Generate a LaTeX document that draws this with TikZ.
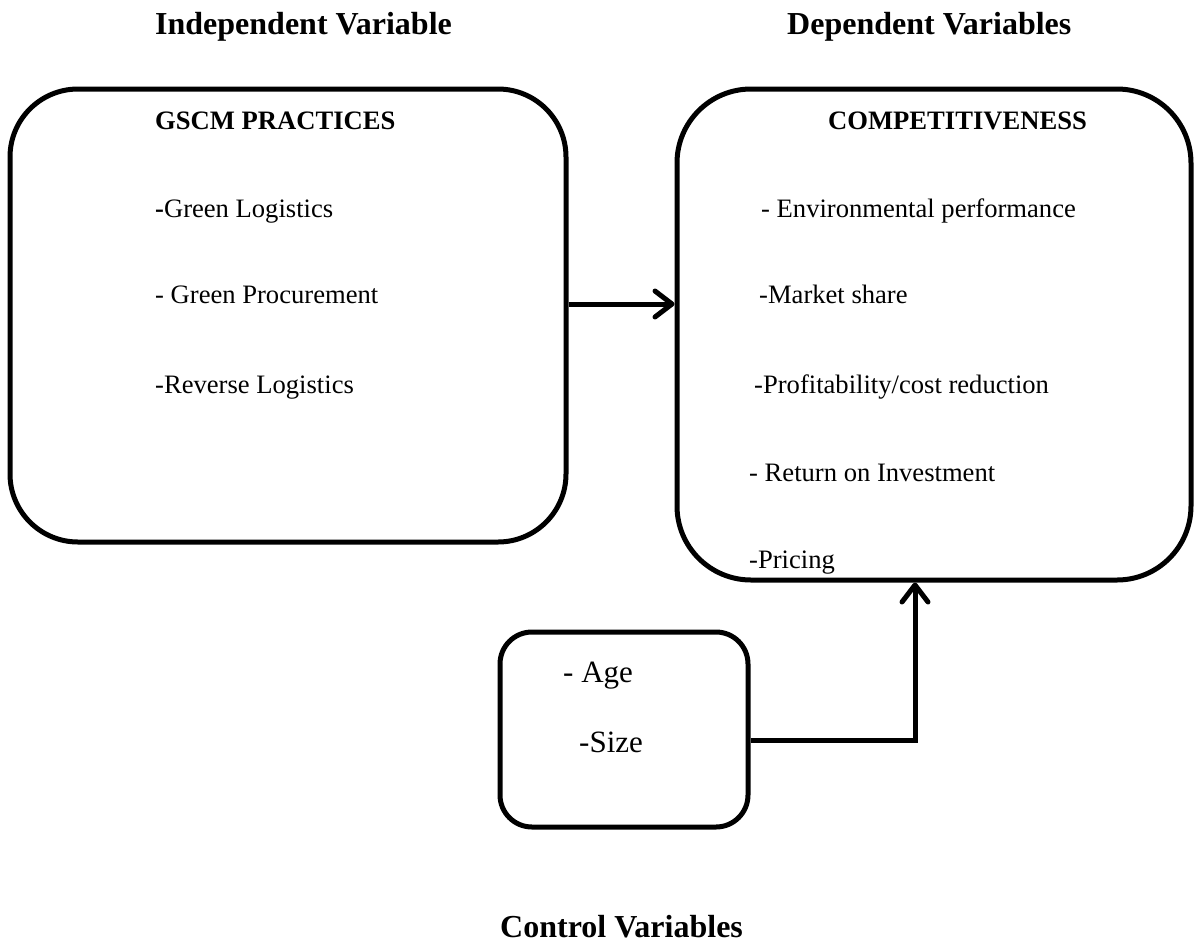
\documentclass[tikz,border=0pt]{standalone}
\usepackage{fontspec}
\setmainfont{Liberation Serif}
\usetikzlibrary{arrows.meta}
\tikzstyle{box} = [draw, line width=5pt, rectangle, inner sep=0pt]
\tikzstyle{entry} = [anchor=base west, inner sep=0pt, font=\fontsize{26.6}{30}\selectfont]
\tikzstyle{boxtitle} = [entry, font=\fontsize{26.6}{30}\selectfont\bfseries]
\tikzstyle{ctrlentry} = [entry, font=\fontsize{31}{36}\selectfont]
\tikzstyle{heading} = [anchor=base west, inner sep=0pt, font=\fontsize{32}{38}\selectfont\bfseries]
\tikzstyle{link} = [line width=5pt, -{Straight Barb[length=17pt,width=26pt,line cap=round,line join=round]}]

\begin{document}
\begin{tikzpicture}[x=1pt,y=-1pt]
\useasboundingbox (0,0) rectangle (1195,943);

\node[box, name=gscm, rounded corners=68pt, minimum width=556pt, minimum height=453pt] at (288,315.5) {};
\node[box, name=comp, rounded corners=74pt, minimum width=514pt, minimum height=491pt] at (934,334.5) {};
\node[box, name=ctrl, rounded corners=32pt, minimum width=248pt, minimum height=195pt] at (624,729.5) {};

% headings
\node[heading, name=indep] at (155,34) {Independent Variable};
\node[heading, name=dep] at (787,34) {Dependent Variables};
\node[heading, name=control] at (500,937) {Control Variables};

% gscm practices
\node[boxtitle, name=gscmtitle] at (155,129) {GSCM PRACTICES};
\node[entry, name=glog] at (155,217) {\textbf{-}Green Logistics};
\node[entry, name=gproc] at (155,303) {- Green Procurement};
\node[entry, name=rlog] at (155,393) {-Reverse Logistics};

% competitiveness
\node[boxtitle, name=comptitle] at (828,129) {COMPETITIVENESS};
\node[entry, name=envp] at (761,217) {- Environmental performance};
\node[entry, name=mshare] at (759,303) {-Market share};
\node[entry, name=profit] at (754,393) {-Profitability/cost reduction};
\node[entry, name=roi] at (749,481) {- Return on Investment};
\node[entry, name=pricing] at (749,568) {-Pricing};

% control
\node[ctrlentry, name=age] at (563,682) {- Age};
\node[ctrlentry, name=size] at (579,752) {-Size};

\coordinate (a) at (0,304);
\draw[link] (gscm.east |- a) -- (comp.west |- a);

\coordinate (c) at (915,740);
\draw[link] (ctrl.east |- c) -- (c) -- (comp.south -| c);

\end{tikzpicture}
\end{document}
